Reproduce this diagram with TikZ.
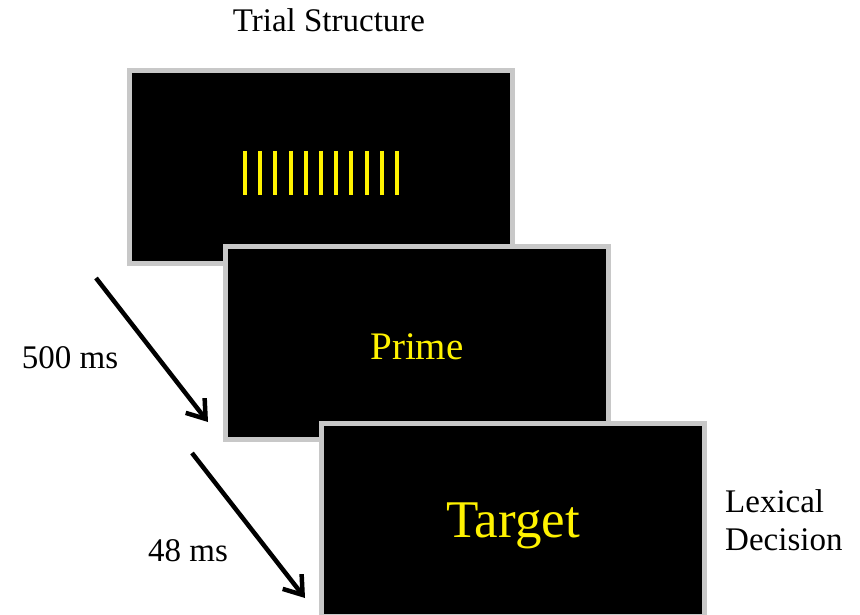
\documentclass[tikz,border=0pt]{standalone}
\usepackage{fontspec}
\setmainfont{Liberation Serif}
\usepackage{tikz}
\usetikzlibrary{arrows.meta}
\definecolor{rim}{RGB}{200,200,200}
\definecolor{cue}{RGB}{255,242,0}
\tikzset{
  screen/.style={draw=rim, fill=black, line width=5pt, minimum width=383pt, minimum height=193pt, inner sep=0pt},
  bar/.style={draw=cue, line width=4pt},
  label/.style={black, font=\fontsize{33}{38}\selectfont, inner sep=0pt},
  word/.style={cue, inner sep=0pt},
  delay/.style={-{Straight Barb[length=17pt, width=24pt]}, draw=black, line width=4.5pt}
}
\begin{document}
\begin{tikzpicture}[x=1pt, y=-1pt]
  \useasboundingbox (0,0) rectangle (860,615);
  % three screens, back to front
  \node[screen] (mask) at (321,167) {};
  \node[screen] (prime) at (417,343) {};
  \node[screen] (target) at (512.5,520) {};
  % forward mask
  \foreach \i in {0,...,10}
    \draw[bar] (245+15.2*\i,151) -- (245+15.2*\i,195);
  \node[word, font=\fontsize{39}{42}\selectfont, anchor=base] (primeword) at (417,359) {Prime};
  \node[word, font=\fontsize{53}{56}\selectfont, anchor=base] (targetword) at (513,537) {Target};
  % timing arrows
  \coordinate (a1) at (96,278);
  \coordinate (b1) at (208,422);
  \coordinate (a2) at (192,453);
  \coordinate (b2) at (305,598);
  \draw[delay] (a1) -- (b1);
  \draw[delay] (a2) -- (b2);
  \node[label, anchor=base] (title) at (329,32) {Trial Structure};
  \node[label, anchor=base] (soa) at (70,368) {500 ms};
  \node[label, anchor=base] (dur) at (188,561) {48 ms};
  \node[label, anchor=base west, align=left] (task) at (725,550) {Lexical\\Decision};
\end{tikzpicture}
\end{document}
